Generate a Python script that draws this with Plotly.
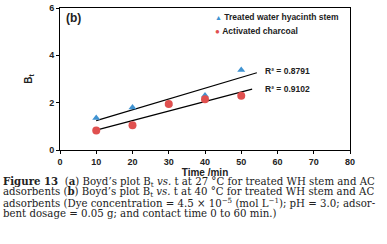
import numpy as np
import plotly.graph_objects as go

time_min = [10, 20, 30, 40, 50]
wh_stem = [1.35, 1.80, 1.95, 2.30, 3.38]
charcoal = [0.82, 1.05, 1.94, 2.14, 2.29]
x_ticks = [0, 10, 20, 30, 40, 50, 60, 70, 80]
y_ticks = [0, 2, 4, 6]
series_names = ["Treated water hyacinth stem", "Activated charcoal"]
r2_labels = ["R² = 0.8791", "R² = 0.9102"]

blue = "#3F93D2"
red = "#E0504F"
fam = "Arial, Liberation Sans, sans-serif"

fig = go.Figure()

# trend lines (least squares fit of each series)
for ys, xend in [(wh_stem, 54.3), (charcoal, 53.0)]:
    m, b = np.polyfit(time_min, ys, 1)
    xs = np.array([10, xend])
    fig.add_trace(go.Scatter(x=xs, y=m * xs + b, mode="lines",
                             line=dict(color="black", width=1.2), showlegend=False,
                             hoverinfo="skip"))

fig.add_trace(go.Scatter(x=time_min, y=wh_stem, mode="markers", name=series_names[0],
                         marker=dict(symbol="triangle-up", size=7, color=blue)))
fig.add_trace(go.Scatter(x=time_min, y=charcoal, mode="markers", name=series_names[1],
                         marker=dict(symbol="circle", size=8, color=red)))

ytop, ybot = 8, 150
ph = ybot - ytop
xl, xr = 60, 350
pw = xr - xl


def py(Y):
    return (ybot - Y) / ph


def px(X):
    return (X - xl) / pw


tick_font = dict(family=fam, size=9, color="#222", weight="bold")
fig.update_layout(
    width=387, height=244,
    margin=dict(l=xl, r=387 - xr, t=ytop, b=244 - ybot, autoexpand=False),
    paper_bgcolor="white", plot_bgcolor="white",
    showlegend=False,
    xaxis=dict(range=[0, 80], tickvals=x_ticks, showgrid=False, zeroline=False,
               showline=True, linecolor="black", linewidth=1, mirror=True,
               ticks="outside", ticklen=3, tickcolor="black", automargin=False,
               tickfont=tick_font,
               title=dict(text="Time /min", standoff=2,
                          font=dict(family=fam, size=10, color="#222", weight="bold"))),
    yaxis=dict(range=[0, 6], tickvals=y_ticks, showgrid=False, zeroline=False,
               showline=True, linecolor="black", linewidth=1, mirror=True,
               ticks="outside", ticklen=3, tickcolor="black", automargin=False,
               tickfont=tick_font,
               title=dict(text="B<sub>t</sub>", standoff=14,
                          font=dict(family=fam, size=10, color="#222", weight="bold"))),
)

fig.add_annotation(x=px(64), y=py(18), xref="paper", yref="paper", xanchor="left", yanchor="middle",
                   text="<b>(b)</b>", showarrow=False,
                   font=dict(family=fam, size=12, color="#222"))

# legend drawn as text
legend_rows = [(f"<span style='color:{blue};font-size:7px'>▲</span> <b>{series_names[0]}</b>", 17),
               (f"<span style='color:{red};font-size:8px'>●</span> <b>{series_names[1]}</b>", 31)]
for t, Y in legend_rows:
    fig.add_annotation(x=px(213), y=py(Y), xref="paper", yref="paper", xanchor="left", yanchor="middle",
                       text=t, showarrow=False, font=dict(family=fam, size=8.5, color="#222"))

fig.add_annotation(x=55.9, y=3.33, xanchor="left", yanchor="middle", text="<b>" + r2_labels[0] + "</b>",
                   showarrow=False, font=dict(family=fam, size=8.5, color="#222"))
fig.add_annotation(x=55.9, y=2.57, xanchor="left", yanchor="middle", text="<b>" + r2_labels[1] + "</b>",
                   showarrow=False, font=dict(family=fam, size=8.5, color="#222"))

cap_font = dict(family="DejaVu Serif, serif", size=10.2, color="#222")
caption = [
    "<b>Figure 13</b>  (<b>a</b>) Boyd’s plot B<sub>t</sub> <i>vs.</i> t at 27 °C for treated WH stem and AC",
    "adsorbents (<b>b</b>) Boyd’s plot B<sub>t</sub> <i>vs.</i> t at 40 °C for treated WH stem and AC",
    "adsorbents (Dye concentration = 4.5 × 10<sup>−5</sup> (mol L<sup>−1</sup>); pH = 3.0; adsor-",
    "bent dosage = 0.05 g; and contact time 0 to 60 min.)",
]
cap_y = [181.5, 192, 202.5, 213.5]
for t, Y in zip(caption, cap_y):
    fig.add_annotation(x=px(1), y=py(Y), xref="paper", yref="paper", xanchor="left", yanchor="middle",
                       text=t, showarrow=False, font=cap_font)

fig.write_html("out.html", config={"displayModeBar": False},
               post_script="document.body.style.margin='0';document.body.style.overflow='hidden';")
